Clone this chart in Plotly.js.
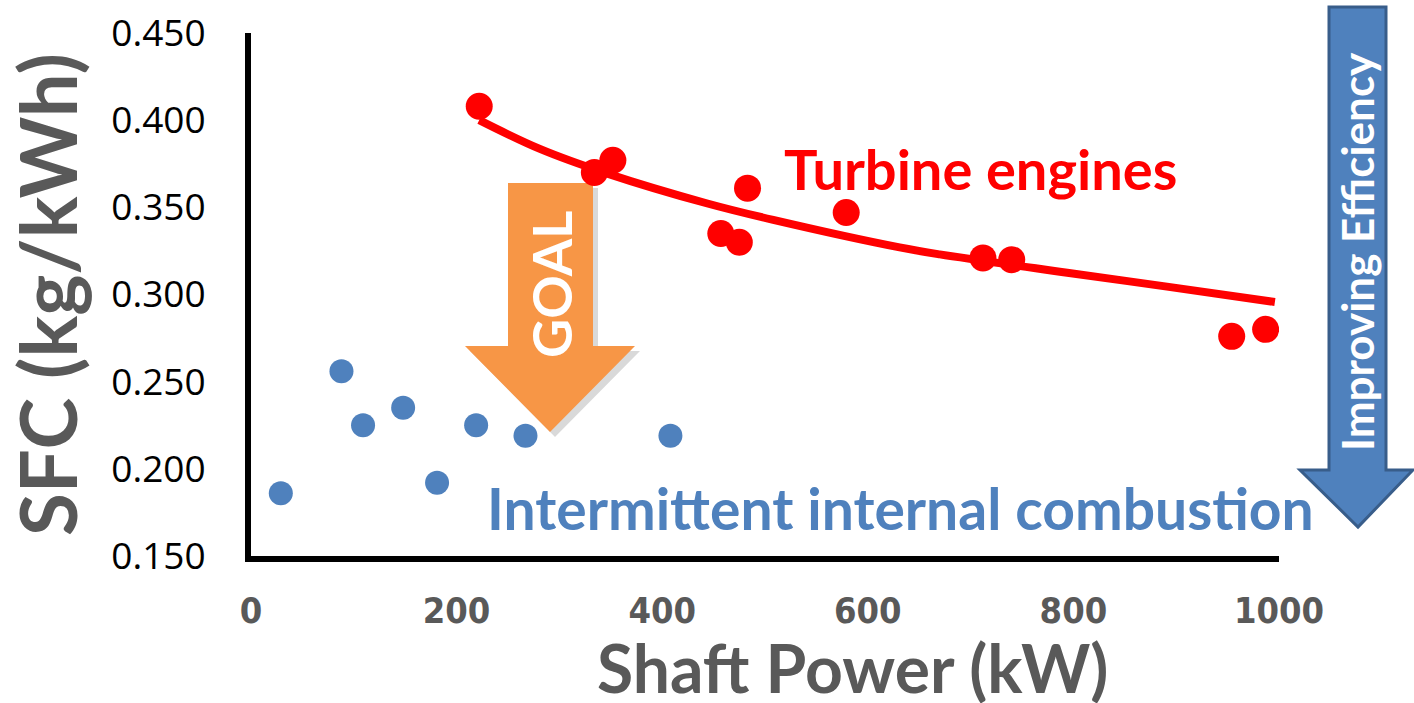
<!DOCTYPE html>
<html>
<head>
<meta charset="utf-8">
<script src="https://cdn.plot.ly/plotly-3.0.1.min.js"></script>
<style>html,body{margin:0;padding:0;background:#fff;}#chart{width:1414px;height:703px;}</style>
</head>
<body>
<div id="chart"></div>
<script>
// Intermittent internal combustion engines (kW, kg/kWh)
const iceX = [29, 88, 109, 148, 181, 219, 267, 408];
const iceY = [0.186, 0.256, 0.225, 0.235, 0.192, 0.225, 0.219, 0.219];
// Turbine engines
const turbX = [222, 334, 352, 457, 475, 483, 579, 712, 740, 954, 987];
const turbY = [0.408, 0.370, 0.377, 0.335, 0.330, 0.361, 0.347, 0.321, 0.320, 0.276, 0.280];
// Trend curve
const trendX = [222, 281, 346, 444, 508, 631, 670, 794, 891, 996];
const trendY = [0.400, 0.3835, 0.3695, 0.3522, 0.3428, 0.327, 0.323, 0.3125, 0.3045, 0.2957];
const xTicks = [0, 200, 400, 600, 800, 1000];
const yTicks = [0.15, 0.20, 0.25, 0.30, 0.35, 0.40, 0.45];

const L = 251, R = 1279, T = 33, B = 556;
const px = x => (x - L) / (R - L);
const py = y => (B - y) / (B - T);
function path(pts) {
  return 'M' + pts.map(p => px(p[0]).toFixed(5) + ',' + py(p[1]).toFixed(5)).join(' L') + ' Z';
}
const goalPts = [[508,183],[593,183],[593,346],[635,346],[550,432],[465,346],[508,346]];
const effPts = [[1329,7],[1386,7],[1386,470],[1413,470],[1358,527],[1300,470],[1329,470]];
const shadowPts = goalPts.map(p => [p[0] + 5, p[1] + 5]);

const FONT = 'Lato, "Open Sans", sans-serif';

const traces = [
  {x: iceX, y: iceY, type: 'scatter', mode: 'markers', name: 'Intermittent internal combustion',
   marker: {color: '#4F81BD', size: 24}},
  {x: trendX, y: trendY, type: 'scatter', mode: 'lines', name: 'Turbine trend',
   line: {color: '#FF0000', width: 8, shape: 'spline', smoothing: 1}},
  {x: turbX, y: turbY, type: 'scatter', mode: 'markers', name: 'Turbine engines',
   marker: {color: '#FF0000', size: 27}}
];

const layout = {
  width: 1414, height: 703,
  margin: {l: L, r: 1414 - R, t: T, b: 703 - B},
  paper_bgcolor: '#ffffff', plot_bgcolor: '#ffffff',
  showlegend: false,
  xaxis: {
    range: [0, 1000], tickvals: xTicks, ticktext: xTicks.map(String),
    showgrid: false, zeroline: false, showline: true, linecolor: '#000', linewidth: 6,
    ticks: '', ticklabelstandoff: 18,
    tickfont: {family: '"Liberation Sans Narrow", "DejaVu Sans Condensed", sans-serif', size: 36, color: '#595959', weight: 'bold'}
  },
  yaxis: {
    range: [0.15, 0.45], tickvals: yTicks, tickformat: '.3f',
    showgrid: false, zeroline: false, showline: true, linecolor: '#000', linewidth: 6,
    ticks: '', ticklabelstandoff: 32,
    tickfont: {family: '"Open Sans", sans-serif', size: 37, color: '#000'},
    title: {text: 'SFC (kg/kWh)', standoff: 22,
      font: {family: FONT, size: 78, color: '#595959', weight: 'bold'}}
  },
  shapes: [
    {type: 'path', xref: 'paper', yref: 'paper', path: path(shadowPts), fillcolor: 'rgba(0,0,0,0.15)', line: {width: 0}, layer: 'below'},
    {type: 'path', xref: 'paper', yref: 'paper', path: path(goalPts), fillcolor: '#F79646', line: {width: 0}, layer: 'below'},
    {type: 'path', xref: 'paper', yref: 'paper', path: path(effPts), fillcolor: '#4F81BD', line: {color: '#385D8A', width: 3}, layer: 'above'}
  ],
  annotations: [
    {text: 'Shaft Power (kW)', xref: 'paper', yref: 'paper', x: px(852), y: py(667), xanchor: 'center', yanchor: 'middle',
     showarrow: false, font: {family: FONT, size: 66, color: '#595959', weight: 'bold'}},
    {text: 'Turbine engines', xref: 'paper', yref: 'paper', x: px(980), y: py(168), xanchor: 'center', yanchor: 'middle',
     showarrow: false, font: {family: FONT, size: 56, color: '#FF0000', weight: 'bold'}},
    {text: 'Intermittent internal combustion', xref: 'paper', yref: 'paper', x: px(900), y: py(508), xanchor: 'center', yanchor: 'middle',
     showarrow: false, font: {family: FONT, size: 57, color: '#4F81BD', weight: 'bold'}},
    {text: 'GOAL', xref: 'paper', yref: 'paper', x: px(551), y: py(285), xanchor: 'center', yanchor: 'middle', textangle: -90,
     showarrow: false, font: {family: FONT, size: 54, color: '#FFFFFF', weight: 'bold'}},
    {text: 'Improving Efficiency', xref: 'paper', yref: 'paper', x: px(1357), y: py(252), xanchor: 'center', yanchor: 'middle', textangle: -90,
     showarrow: false, font: {family: FONT, size: 44, color: '#FFFFFF', weight: 'bold'}}
  ]
};

Plotly.newPlot('chart', traces, layout, {displayModeBar: false, staticPlot: true});
</script>
</body>
</html>
